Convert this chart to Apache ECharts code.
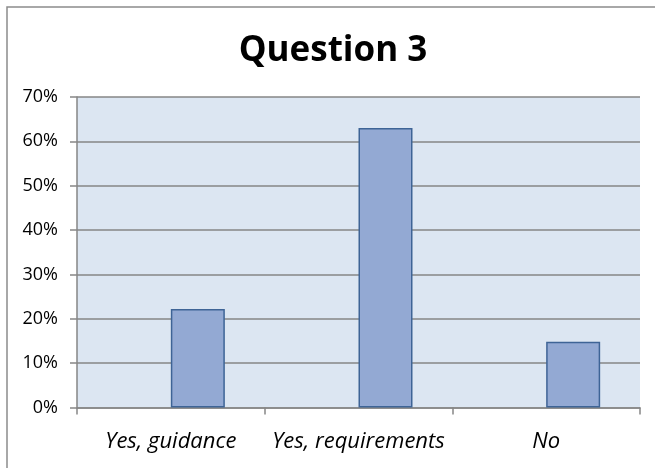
<!DOCTYPE html>
<html>
<head>
<meta charset="utf-8">
<script src="https://cdn.jsdelivr.net/npm/echarts@6/dist/echarts.min.js"></script>
<style>
  html, body { margin: 0; padding: 0; background: #fff; }
  #chart { width: 655px; height: 468px; }
</style>
</head>
<body>
<div id="chart"></div>
<script>
// data
const categories = ["Yes, guidance", "Yes, requirements", "No"];
const emptySeries = [null, null, null]; // first (empty) series in the original, shifts the bars right
const shares = [22.2, 63.0, 14.8];
const yTicks = [0, 10, 20, 30, 40, 50, 60, 70];

const chart = echarts.init(document.getElementById("chart"));

const option = {
  animation: false,
  title: {
    text: "Question 3",
    left: 328,
    top: 29,
    textAlign: "center",
    textStyle: {
      fontFamily: "Open Sans",
      fontWeight: "bold",
      fontSize: 35,
      color: "#000",
    },
  },
  graphic: [
    {
      type: "rect",
      shape: { x: 7, y: 7, width: 900, height: 700 },
      style: { fill: "none", stroke: "#8c8c8c", lineWidth: 1.5 },
      silent: true,
    },
  ],
  grid: {
    left: 77,
    right: 15,
    top: 97,
    bottom: 60.5,
    show: true,
    backgroundColor: "#dce6f2",
    borderWidth: 0,
  },
  xAxis: {
    type: "category",
    data: categories,
    axisLine: { lineStyle: { color: "#868686", width: 1.5 } },
    axisTick: { show: true, alignWithLabel: false, length: 7, lineStyle: { color: "#868686", width: 1.5 } },
    axisLabel: {
      interval: 0,
      margin: 23,
      fontFamily: "Open Sans",
      fontStyle: "italic",
      fontSize: 22,
      color: "#000",
    },
  },
  yAxis: {
    type: "value",
    min: yTicks[0],
    max: yTicks[yTicks.length - 1],
    interval: 10,
    axisLine: { show: true, lineStyle: { color: "#868686", width: 1.5 } },
    axisTick: { show: true, length: 7, lineStyle: { color: "#868686", width: 1.5 } },
    splitLine: { lineStyle: { color: "#868686", width: 1.5 } },
    axisLabel: {
      margin: 19,
      formatter: "{value}%",
      fontFamily: "Open Sans",
      fontSize: 18,
      color: "#000",
    },
  },
  series: [
    {
      type: "bar",
      data: emptySeries,
      barWidth: 54,
      barGap: "0%",
      itemStyle: { color: "#93a9d3" },
    },
    {
      type: "bar",
      data: shares,
      barWidth: 54,
      barGap: "0%",
      itemStyle: { color: "#93a9d3", borderColor: "#3e6496", borderWidth: 1.5 },
    },
  ],
};

chart.setOption(option);
</script>
</body>
</html>
